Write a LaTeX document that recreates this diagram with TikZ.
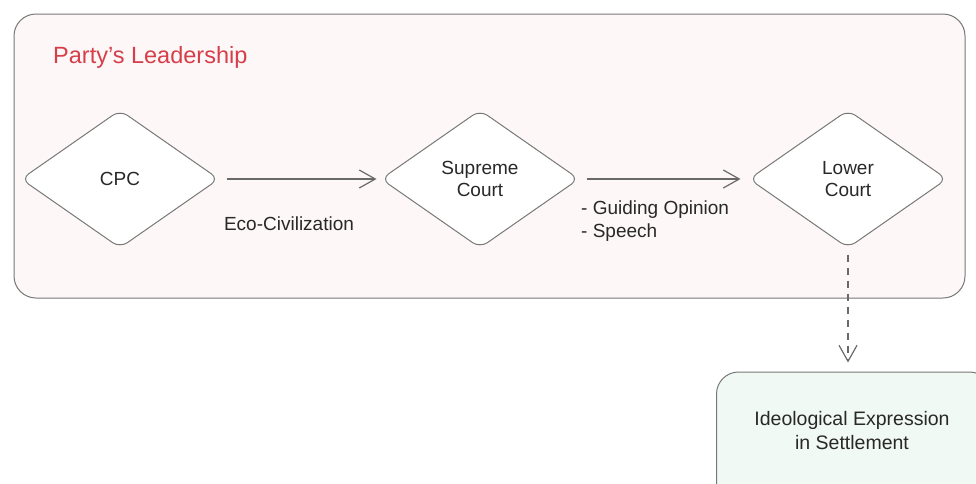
\documentclass[tikz,border=0pt]{standalone}
\usepackage{fontspec}
\setmainfont{Liberation Sans}
\usetikzlibrary{shapes.geometric,arrows.meta}
\definecolor{edgegray}{RGB}{120,120,120}
\definecolor{linegray}{RGB}{105,105,105}
\definecolor{pinkbg}{RGB}{253,247,247}
\definecolor{greenbg}{RGB}{241,249,244}
\definecolor{titlered}{RGB}{214,62,74}
\definecolor{textgray}{RGB}{40,40,40}
\tikzset{
  dia/.style={diamond, draw=edgegray, line width=1pt, fill=white, rounded corners=9pt,
    minimum width=198pt, minimum height=138pt, inner sep=0pt, align=center,
    font=\fontsize{19}{22}\selectfont, text=textgray},
  conn/.style={draw=linegray, line width=1.2pt, -{Straight Barb[length=16pt,width=18pt,line width=1.2pt]}},
  lbl/.style={font=\fontsize{19}{23}\selectfont, text=textgray, inner sep=0pt},
}
\begin{document}
\begin{tikzpicture}[x=1pt,y=-1pt]
\useasboundingbox (0,0) rectangle (976,483);
\clip (0,0) rectangle (976,483);
\node[draw=edgegray, line width=1pt, fill=pinkbg, rounded corners=22pt, minimum width=951pt, minimum height=284pt, inner sep=0pt] (outer) at (489.5,156) {};
\node[anchor=west, font=\fontsize{23.5}{26}\selectfont, text=titlered, inner sep=0pt] (title) at (53,57) {Party{\char"27}s Leadership};
\node[dia] (cpc) at (120,179) {CPC};
\node[dia] (sup) at (480,179) {Supreme\\Court};
\node[dia] (low) at (848,179) {Lower\\Court};
\draw[conn, shorten <=7pt, shorten >=4pt] (cpc.east) -- (sup.west);
\draw[conn, shorten <=7pt, shorten >=8pt] (sup.east) -- (low.west);
\node[lbl] (eco) at (289,224) {Eco-Civilization};
\node[lbl, anchor=north west, align=left] (guide) at (581,201) {- Guiding Opinion\\- Speech};
\node[draw=edgegray, line width=1pt, fill=greenbg, rounded corners=22pt, minimum width=275pt, minimum height=140pt, inner sep=0pt] (ideo) at (854,442) {};
\node[lbl, align=center, font=\fontsize{19.5}{24}\selectfont] (ideotext) at (852,431) {Ideological Expression\\in Settlement};
\draw[conn, dashed, dash pattern=on 7pt off 6pt, shorten <=6pt, shorten >=9pt] (low.south) -- (ideo.north -| low.south);
\end{tikzpicture}
\end{document}
